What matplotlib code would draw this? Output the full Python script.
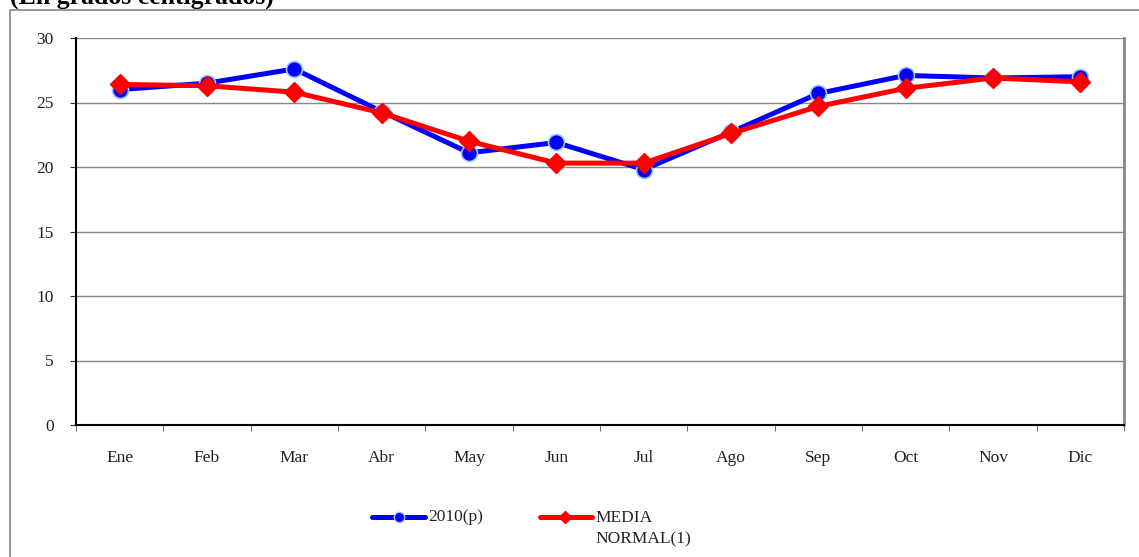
import matplotlib
matplotlib.use("Agg")
import matplotlib.pyplot as plt
from matplotlib.lines import Line2D

months = ["Ene", "Feb", "Mar", "Abr", "May", "Jun", "Jul", "Ago", "Sep", "Oct", "Nov", "Dic"]
serie_2010 = [26.0, 26.5, 27.6, 24.3, 21.1, 21.9, 19.8, 22.7, 25.7, 27.1, 26.9, 27.0]
media_normal = [26.4, 26.3, 25.8, 24.2, 22.0, 20.3, 20.3, 22.6, 24.7, 26.1, 26.9, 26.6]
y_ticks = [0, 5, 10, 15, 20, 25, 30]
label_2010 = "2010(p)"
label_media = "MEDIA\nNORMAL(1)"
title = "(En grados centígrados)"

plt.rcParams['font.family'] = ['Liberation Serif', 'DejaVu Serif']

W, H = 1139, 557
fig = plt.figure(figsize=(W / 100, H / 100), dpi=100)
ax = fig.add_axes([76 / W, 1 - 425 / H, (1124 - 76) / W, (425 - 38) / H])

BLUE, BLUE_EDGE, RED = "#0000ff", "#99ccff", "#ff0000"
x = list(range(len(months)))
ax.plot(x, serie_2010, color=BLUE, lw=3.6, marker="o", markersize=11.5,
        markerfacecolor=BLUE, markeredgecolor=BLUE_EDGE, markeredgewidth=1.2,
        zorder=3)
ax.plot(x, media_normal, color=RED, lw=3.6, marker="D", markersize=10,
        markerfacecolor=RED, markeredgecolor=RED, zorder=4)

ax.set_xlim(-0.5, len(months) - 0.5)
ax.set_ylim(0, 30)
ax.set_yticks(y_ticks)
ax.set_yticklabels([str(v) for v in y_ticks], fontsize=12.5, color="#222222")
ax.set_xticks(x)
ax.set_xticklabels(months, fontsize=12.5, color="#222222")
ax.tick_params(axis="x", length=0, pad=18)
ax.set_xticks([i - 0.5 for i in range(len(months) + 1)], minor=True)
ax.tick_params(axis="x", which="minor", length=4, direction="out", color="#555555")
ax.tick_params(axis="y", length=4, direction="out", pad=12, color="#333333")

ax.grid(axis="y", color="#888888", lw=1.0)
ax.set_axisbelow(True)
ax.spines["top"].set_visible(False)
ax.spines["right"].set_color("#888888")
ax.spines["right"].set_linewidth(2.0)
for s in ["left", "bottom"]:
    ax.spines[s].set_color("black")
    ax.spines[s].set_linewidth(1.5)

# outer chart frame
fig.add_artist(Line2D([10 / W, 10 / W, 1.0], [0.0, 1 - 10 / H, 1 - 10 / H],
                      transform=fig.transFigure, color="#888888", lw=1.2))

fig.text(10 / W, 1 - 4 / H, title, fontsize=18.5, fontweight="bold",
         va="baseline", ha="left", color="black")

# legend (drawn in figure pixel coordinates)
def fx(px):
    return px / W

def fy(py):
    return 1 - py / H

ly = 517
fig.add_artist(Line2D([fx(372), fx(425)], [fy(ly), fy(ly)], transform=fig.transFigure,
                      color=BLUE, lw=3.6, solid_capstyle="round"))
fig.add_artist(Line2D([fx(398.5)], [fy(ly)], transform=fig.transFigure, marker="o",
                      markersize=7.5, markerfacecolor=BLUE, markeredgecolor=BLUE_EDGE,
                      markeredgewidth=1.0, linestyle="none"))
fig.text(fx(428), fy(ly), label_2010, fontsize=12.5, va="center", ha="left", color="#222222")

fig.add_artist(Line2D([fx(540), fx(592)], [fy(ly), fy(ly)], transform=fig.transFigure,
                      color=RED, lw=3.6, solid_capstyle="round"))
fig.add_artist(Line2D([fx(565)], [fy(ly)], transform=fig.transFigure, marker="D",
                      markersize=6.5, markerfacecolor=RED, markeredgecolor=RED,
                      linestyle="none"))
fig.text(fx(595), fy(ly - 7), label_media, fontsize=12.5, va="top", ha="left",
         color="#222222", linespacing=1.45)

fig.savefig("out.png", dpi=100)
